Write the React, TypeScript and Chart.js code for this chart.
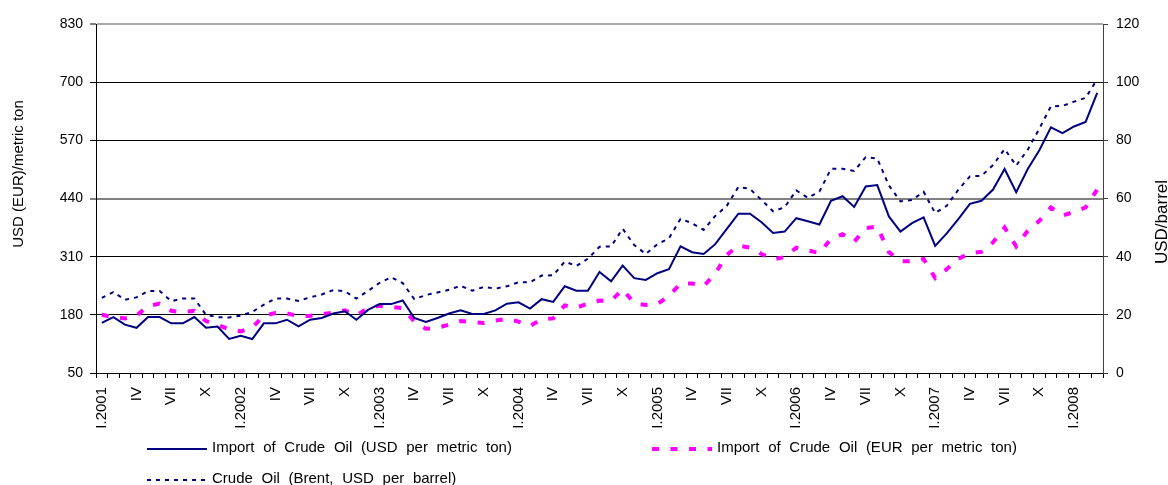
import React, { useEffect, useRef } from 'react';
import { Chart, registerables } from 'chart.js';

Chart.register(...registerables);

const monthLabels: string[] = [
  'I.2001', '', '', 'IV', '', '', 'VII', '', '', 'X', '', '',
  'I.2002', '', '', 'IV', '', '', 'VII', '', '', 'X', '', '',
  'I.2003', '', '', 'IV', '', '', 'VII', '', '', 'X', '', '',
  'I.2004', '', '', 'IV', '', '', 'VII', '', '', 'X', '', '',
  'I.2005', '', '', 'IV', '', '', 'VII', '', '', 'X', '', '',
  'I.2006', '', '', 'IV', '', '', 'VII', '', '', 'X', '', '',
  'I.2007', '', '', 'IV', '', '', 'VII', '', '', 'X', '', '',
  'I.2008', '', '',
];

const usdPerTon: number[] = [
  162, 175, 158, 151, 175, 175, 161, 161, 175, 151, 154, 126,
  133, 126, 161, 161, 169, 154, 169, 173, 183, 188, 169, 191,
  204, 204, 212, 173, 164, 173, 183, 190, 182, 182, 190, 205,
  208, 194, 215, 209, 244, 234, 234, 276, 255, 290, 262, 258,
  273, 282, 333, 320, 316, 338, 372, 406, 406, 387, 363, 366,
  396, 389, 382, 435, 445, 421, 467, 470, 400, 366, 385, 398,
  334, 362, 394, 428, 435, 460, 506, 454, 506, 548, 599, 586,
  601, 611, 676,
];

const eurPerTon: number[] = [
  180, 175, 172, 178, 200, 205, 189, 186, 189, 166, 157, 148,
  143, 152, 178, 184, 183, 177, 178, 181, 185, 190, 179, 195,
  200, 198, 195, 165, 149, 151, 158, 166, 164, 162, 167, 171,
  165, 155, 170, 172, 201, 196, 205, 212, 211, 237, 206, 202,
  204, 222, 250, 250, 244, 272, 314, 335, 330, 316, 304, 309,
  330, 324, 318, 350, 360, 343, 374, 377, 320, 300, 300, 305,
  262, 282, 305, 318, 321, 342, 375, 333, 368, 390, 420, 402,
  410, 420, 460,
];

const brentUsdPerBarrel: number[] = [
  25.8, 27.8, 25.2, 26.0, 28.2, 28.2, 24.7, 25.6, 25.6, 20.0, 19.2, 19.1,
  19.7, 21.0, 23.5, 25.6, 25.6, 24.8, 26.0, 27.0, 28.5, 28.1, 25.6, 28.2,
  31.0, 32.9, 30.9, 25.4, 26.8, 27.7, 28.6, 30.0, 28.3, 29.6, 29.0, 29.8,
  31.2, 31.2, 33.5, 33.6, 38.3, 36.8, 39.3, 43.4, 43.5, 49.6, 44.0, 40.9,
  44.3, 46.3, 53.0, 51.5, 49.2, 54.0, 57.5, 64.0, 63.3, 59.5, 55.6, 57.0,
  62.8, 60.2, 62.4, 70.2, 70.2, 69.5, 74.2, 73.7, 64.5, 59.0, 59.5, 62.3,
  55.0, 57.5, 63.0, 67.6, 67.8, 71.5, 77.0, 71.3, 76.8, 84.0, 91.7, 91.8,
  93.3, 94.6, 101.0,
];

const seriesNames: string[] = [
  'Import of Crude Oil (USD per metric ton)',
  'Import of Crude Oil (EUR per metric ton)',
  'Crude Oil (Brent, USD per barrel)',
];

const leftAxisTitle = 'USD (EUR)/metric ton';
const rightAxisTitle = 'USD/barrel';

const FONT = '"Liberation Sans", Arial, sans-serif';
const NAVY = '#000080';
const MAGENTA = '#FF00FF';

const overlayPlugin = {
  id: 'overlay',
  afterDraw(chart: any) {
    const ctx: CanvasRenderingContext2D = chart.ctx;
    ctx.save();
    ctx.fillStyle = '#000';
    ctx.textAlign = 'center';
    ctx.textBaseline = 'middle';

    ctx.save();
    ctx.font = `15px ${FONT}`;
    ctx.translate(19, 174);
    ctx.rotate(-Math.PI / 2);
    ctx.fillText(leftAxisTitle, 0, 0);
    ctx.restore();

    ctx.save();
    ctx.font = `17px ${FONT}`;
    ctx.translate(1162, 222);
    ctx.rotate(-Math.PI / 2);
    ctx.fillText(rightAxisTitle, 0, 0);
    ctx.restore();

    const items = [
      { x: 147, y: 449, color: NAVY, width: 2, dash: [] as number[], text: seriesNames[0] },
      { x: 652, y: 449, color: MAGENTA, width: 4, dash: [7, 11.5], text: seriesNames[1] },
      { x: 147, y: 480, color: NAVY, width: 2, dash: [4, 5], text: seriesNames[2] },
    ];
    for (const it of items) {
      ctx.save();
      ctx.strokeStyle = it.color;
      ctx.lineWidth = it.width;
      ctx.setLineDash(it.dash);
      ctx.beginPath();
      ctx.moveTo(it.x, it.y);
      ctx.lineTo(it.x + 60, it.y);
      ctx.stroke();
      ctx.restore();

      ctx.save();
      ctx.font = `15px ${FONT}`;
      (ctx as any).wordSpacing = '4.5px';
      ctx.textAlign = 'left';
      ctx.textBaseline = 'alphabetic';
      ctx.fillStyle = '#000';
      ctx.fillText(it.text, it.x + 65, it.y + 3);
      ctx.restore();
    }
    ctx.restore();
  },
};

export default function App() {
  const canvasRef = useRef<HTMLCanvasElement | null>(null);

  useEffect(() => {
    document.body.style.margin = '0';
    const canvas = canvasRef.current;
    if (!canvas) return;
    Chart.defaults.font.family = FONT;
    Chart.defaults.color = '#000';

    const chart = new Chart(canvas, {
      type: 'line',
      data: {
        labels: monthLabels,
        datasets: [
          {
            label: seriesNames[0],
            data: usdPerTon,
            borderColor: NAVY,
            backgroundColor: NAVY,
            borderWidth: 2,
            pointRadius: 0,
            tension: 0,
            yAxisID: 'y',
          },
          {
            label: seriesNames[1],
            data: eurPerTon,
            borderColor: MAGENTA,
            backgroundColor: MAGENTA,
            borderWidth: 4,
            borderDash: [7, 11.5],
            borderCapStyle: 'butt',
            pointRadius: 0,
            tension: 0,
            yAxisID: 'y',
          },
          {
            label: seriesNames[2],
            data: brentUsdPerBarrel,
            borderColor: NAVY,
            backgroundColor: NAVY,
            borderWidth: 2,
            borderDash: [4, 5],
            pointRadius: 0,
            tension: 0,
            yAxisID: 'y1',
          },
        ],
      },
      options: {
        responsive: false,
        animation: false,
        events: [],
        layout: { padding: { top: 24, left: 0, right: 0, bottom: 0 } },
        plugins: {
          legend: { display: false },
          tooltip: { enabled: false },
          title: { display: false },
        },
        scales: {
          x: {
            type: 'category',
            offset: true,
            afterFit: (s: any) => { s.height = 112; },
            grid: {
              display: true,
              drawOnChartArea: false,
              drawTicks: true,
              tickLength: 5,
              offset: true,
              color: '#000',
            },
            border: { display: true, color: '#000', width: 1 },
            ticks: {
              autoSkip: false,
              minRotation: 90,
              maxRotation: 90,
              padding: 9,
              color: '#000',
              font: { size: 15, family: FONT },
            },
          },
          y: {
            type: 'linear',
            position: 'left',
            min: 50,
            max: 830,
            afterFit: (s: any) => { s.width = 96; },
            grid: {
              drawOnChartArea: true,
              drawTicks: true,
              tickLength: 6,
              tickColor: '#000',
              tickWidth: 1,
              color: (c: any) => {
                const v = c.tick ? c.tick.value : null;
                if (v === 830) return '#a8a8a8';
                if (v === 440) return '#808080';
                return '#000';
              },
              lineWidth: (c: any) => {
                const v = c.tick ? c.tick.value : null;
                return v === 830 || v === 440 ? 2 : 1;
              },
            },
            border: { display: true, color: '#000', width: 1 },
            ticks: {
              stepSize: 130,
              padding: 7,
              color: '#000',
              font: { size: 14, family: FONT },
            },
          },
          y1: {
            type: 'linear',
            position: 'right',
            min: 0,
            max: 120,
            afterFit: (s: any) => { s.width = 65; },
            grid: {
              drawOnChartArea: false,
              drawTicks: true,
              tickLength: 5,
              color: '#404040',
            },
            border: { display: true, color: '#404040', width: 1 },
            ticks: {
              stepSize: 20,
              padding: 8,
              color: '#000',
              font: { size: 14, family: FONT },
            },
          },
        },
      } as any,
      plugins: [overlayPlugin],
    });
    return () => chart.destroy();
  }, []);

  return (
    <canvas
      ref={canvasRef}
      width={1168}
      height={485}
      style={{ display: 'block', width: '1168px', height: '485px' }}
    />
  );
}
